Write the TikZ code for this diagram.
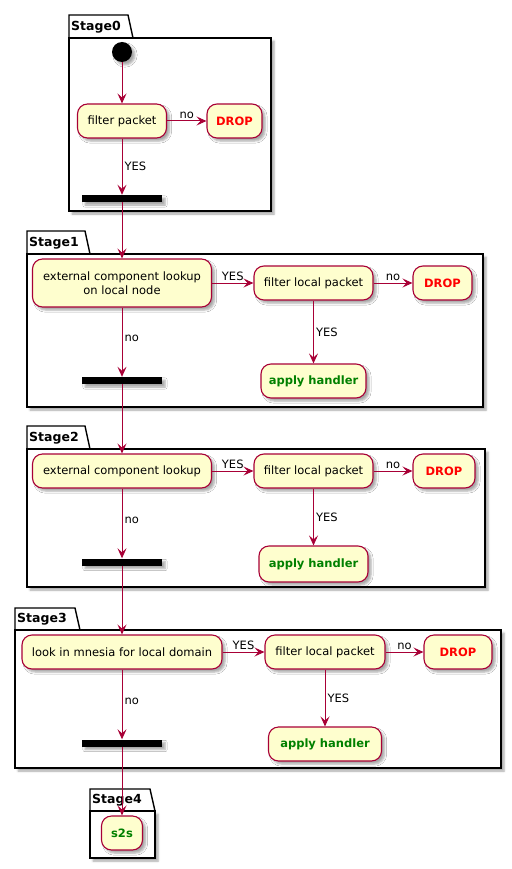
\documentclass[tikz,border=0pt]{standalone}
\usepackage{fontspec}
\setmainfont{DejaVu Sans}
\usetikzlibrary{arrows.meta,shadows.blur}

\definecolor{umlborder}{HTML}{A80036}
\definecolor{umlfill}{HTML}{FEFECE}
\definecolor{dropred}{HTML}{FF0000}
\definecolor{okgreen}{HTML}{008000}

\begin{document}
\begin{tikzpicture}[
      x=1pt, y=-1pt,
      >={Stealth[length=10pt, width=9pt, inset=4pt]},
      font=\fontsize{11.5}{13.5}\selectfont,
      umlshadow/.style={
        blur shadow={shadow xshift=3pt, shadow yshift=-3pt,
          shadow blur steps=5, shadow opacity=35}
      },
      action/.style={
        draw=umlborder,
        fill=umlfill,
        line width=1.1pt,
        rounded corners=10pt,
        inner sep=2pt,
        minimum height=34pt,
        align=center,
        umlshadow
      },
      drop/.style={
        action,
        text=dropred,
        font=\fontsize{11.5}{13.5}\selectfont\bfseries
      },
      handler/.style={
        action,
        text=okgreen,
        font=\fontsize{11.5}{13.5}\selectfont\bfseries
      },
      startdot/.style={
        circle,
        fill=black,
        minimum size=20pt,
        inner sep=0pt,
        umlshadow
      },
      syncbar/.style={
        fill=black,
        minimum width=80pt,
        minimum height=7pt,
        inner sep=0pt,
        umlshadow
      },
      pkg/.style={
        draw=black,
        fill=white,
        line width=1.4pt
      },
      pkgtitle/.style={
        anchor=west,
        inner sep=0pt,
        font=\fontsize{12.5}{14}\selectfont\bfseries
      },
      flow/.style={
        ->,
        draw=umlborder,
        line width=1pt
      },
      lbl/.style={
        text=black,
        inner sep=2pt
      },
    ]

    \useasboundingbox (0,0) rectangle (511,869);

    % packages
    \draw [pkg] (69,38) -- (69,15) -- (128,15) -- (133,38) -- cycle;
    \draw [pkg, umlshadow] (69,38) rectangle (271,211);
    \node [pkgtitle] (stage0) at (71,27) {Stage0};

    \draw [pkg] (27,254) -- (27,231) -- (85,231) -- (90,254) -- cycle;
    \draw [pkg, umlshadow] (27,254) rectangle (483,407);
    \node [pkgtitle] (stage1) at (29,243) {Stage1};

    \draw [pkg] (27,449) -- (27,426) -- (85,426) -- (90,449) -- cycle;
    \draw [pkg, umlshadow] (27,449) rectangle (485,587);
    \node [pkgtitle] (stage2) at (29,438) {Stage2};

    \draw [pkg] (15,630) -- (15,608) -- (75,608) -- (80,630) -- cycle;
    \draw [pkg, umlshadow] (15,630) rectangle (501,768);
    \node [pkgtitle] (stage3) at (17,619) {Stage3};

    \draw [pkg] (90,811) -- (90,789) -- (150,789) -- (155,811) -- cycle;
    \draw [pkg, umlshadow] (90,811) rectangle (155,858);
    \node [pkgtitle] (stage4) at (92,800) {Stage4};

    % Stage0
    \node [startdot] (start) at (122,52) {};
    \node [action, minimum width=89pt] (fp0) at (122,121) {filter packet};
    \node [drop, minimum width=55pt] (drop0) at (234.5,121) {DROP};
    \node [syncbar] (bar0) at (122,198.5) {};

    % Stage1
    \node [action, minimum width=179pt, minimum height=48pt] (ecl1) at (122,283)
      {external component lookup\\on local node};
    \node [action, minimum width=119pt] (flp1) at (313.5,283) {filter local packet};
    \node [drop, minimum width=59pt] (drop1) at (442.5,283) {DROP};
    \node [syncbar] (bar1) at (122,380.5) {};
    \node [handler, minimum width=105pt] (ah1) at (313.5,381) {apply handler};

    % Stage2
    \node [action, minimum width=179pt] (ecl2) at (122,471) {external component lookup};
    \node [action, minimum width=119pt] (flp2) at (313.5,471) {filter local packet};
    \node [drop, minimum width=62pt] (drop2) at (444,471) {DROP};
    \node [syncbar] (bar2) at (122,562) {};
    \node [handler, minimum width=109pt, minimum height=36pt] (ah2) at (313.5,564) {apply handler};

    % Stage3
    \node [action, minimum width=200pt] (mn3) at (122,652) {look in mnesia for local domain};
    \node [action, minimum width=120pt] (flp3) at (325,652) {filter local packet};
    \node [drop, minimum width=68pt] (drop3) at (458,652) {DROP};
    \node [syncbar] (bar3) at (122,743) {};
    \node [handler, minimum width=113pt] (ah3) at (325,744) {apply handler};

    % Stage4
    \node [handler, minimum width=41pt] (s2s) at (122,833) {s2s};

    % flows
    \draw [flow] (start) -- (fp0);
    \draw [flow] (fp0) -- node [lbl, above] {no} (drop0);
    \draw [flow] (fp0) -- node [lbl, right] {YES} (bar0);
    \draw [flow] (bar0) -- (ecl1);

    \draw [flow] (ecl1) -- node [lbl, above] {YES} (flp1);
    \draw [flow] (flp1) -- node [lbl, above] {no} (drop1);
    \draw [flow] (flp1) -- node [lbl, right] {YES} (ah1);
    \draw [flow] (ecl1) -- node [lbl, right, pos=0.45] {no} (bar1);
    \draw [flow] (bar1) -- (ecl2);

    \draw [flow] (ecl2) -- node [lbl, above] {YES} (flp2);
    \draw [flow] (flp2) -- node [lbl, above] {no} (drop2);
    \draw [flow] (flp2) -- node [lbl, right] {YES} (ah2);
    \draw [flow] (ecl2) -- node [lbl, right, pos=0.45] {no} (bar2);
    \draw [flow] (bar2) -- (mn3);

    \draw [flow] (mn3) -- node [lbl, above] {YES} (flp3);
    \draw [flow] (flp3) -- node [lbl, above] {no} (drop3);
    \draw [flow] (flp3) -- node [lbl, right] {YES} (ah3);
    \draw [flow] (mn3) -- node [lbl, right, pos=0.45] {no} (bar3);
    \draw [flow] (bar3) -- (s2s);
  \end{tikzpicture}
\end{document}
